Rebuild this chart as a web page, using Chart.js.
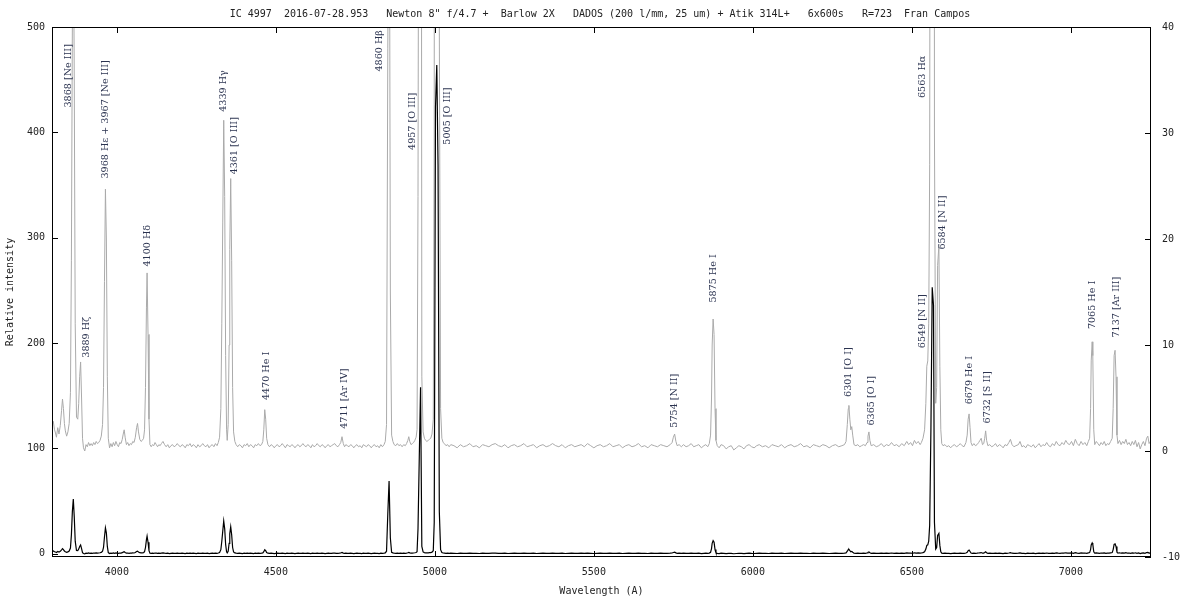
<!DOCTYPE html>
<html>
<head>
<meta charset="utf-8">
<title>IC 4997 spectrum</title>
<script src="https://cdn.jsdelivr.net/npm/chart.js@4.4.0/dist/chart.umd.min.js"></script>
<style>
  html, body { margin: 0; padding: 0; background: #fff; }
  #wrap { width: 1200px; height: 600px; }
</style>
</head>
<body>
<div id="wrap"><canvas id="spec" width="1200" height="600"></canvas></div>
<script>
// wavelength in Angstrom
const wavelength = [
  3796, 3800, 3804, 3807, 3810, 3814, 3818, 3822, 3826, 3829,
  3832, 3835, 3838, 3842, 3846, 3850, 3854, 3857, 3860, 3863,
  3866, 3869, 3873, 3877, 3880, 3883, 3886, 3889, 3892, 3895,
  3899, 3903, 3907, 3911, 3915, 3919, 3923, 3927, 3931, 3935,
  3939, 3943, 3947, 3951, 3955, 3958, 3961, 3964, 3967, 3970,
  3973, 3977, 3981, 3985, 3989, 3993, 3997, 4001, 4005, 4009,
  4013, 4017, 4020, 4023, 4026, 4030, 4034, 4038, 4042, 4046,
  4050, 4054, 4058, 4062, 4065, 4068, 4072, 4076, 4080, 4084,
  4087, 4090, 4093, 4095, 4098, 4101, 4104, 4108, 4112, 4116,
  4120, 4124, 4128, 4132, 4136, 4140, 4145, 4150, 4155, 4160,
  4165, 4170, 4175, 4180, 4185, 4190, 4195, 4200, 4205, 4210,
  4215, 4220, 4225, 4230, 4235, 4240, 4245, 4250, 4255, 4260,
  4265, 4270, 4275, 4280, 4285, 4290, 4295, 4300, 4305, 4310,
  4315, 4319, 4323, 4327, 4330, 4333, 4336, 4339, 4342, 4345,
  4347, 4350, 4353, 4355, 4358, 4361, 4364, 4367, 4371, 4375,
  4380, 4385, 4390, 4395, 4400, 4405, 4410, 4415, 4420, 4425,
  4430, 4435, 4440, 4445, 4450, 4455, 4459, 4462, 4465, 4468,
  4471, 4475, 4480, 4485, 4490, 4495, 4500, 4505, 4510, 4515,
  4520, 4525, 4530, 4535, 4540, 4545, 4550, 4555, 4560, 4565,
  4570, 4575, 4580, 4585, 4590, 4595, 4600, 4605, 4610, 4615,
  4620, 4625, 4630, 4635, 4640, 4645, 4650, 4655, 4660, 4665,
  4670, 4675, 4680, 4685, 4690, 4695, 4700, 4704, 4708, 4712,
  4716, 4720, 4725, 4730, 4735, 4740, 4745, 4750, 4755, 4760,
  4765, 4770, 4775, 4780, 4785, 4790, 4795, 4800, 4805, 4810,
  4815, 4820, 4825, 4830, 4835, 4840, 4844, 4848, 4852, 4856,
  4860, 4864, 4868, 4872, 4877, 4882, 4887, 4892, 4897, 4902,
  4907, 4911, 4915, 4918, 4921, 4925, 4929, 4933, 4937, 4941,
  4944, 4947, 4951, 4955, 4959, 4963, 4967, 4971, 4975, 4979,
  4983, 4987, 4991, 4995, 4998, 5002, 5006, 5010, 5014, 5018,
  5022, 5026, 5030, 5035, 5040, 5045, 5050, 5060, 5070, 5080,
  5090, 5100, 5110, 5120, 5130, 5140, 5150, 5160, 5170, 5180,
  5190, 5200, 5210, 5220, 5230, 5240, 5250, 5260, 5270, 5280,
  5290, 5300, 5310, 5320, 5330, 5340, 5350, 5360, 5370, 5380,
  5390, 5400, 5410, 5420, 5430, 5440, 5450, 5460, 5470, 5480,
  5490, 5500, 5510, 5520, 5530, 5540, 5550, 5560, 5570, 5580,
  5590, 5600, 5610, 5620, 5630, 5640, 5650, 5660, 5670, 5680,
  5690, 5700, 5710, 5720, 5730, 5740, 5746, 5750, 5754, 5758,
  5762, 5768, 5775, 5782, 5790, 5798, 5806, 5814, 5822, 5830,
  5838, 5846, 5852, 5858, 5863, 5867, 5870, 5872, 5875, 5878,
  5881, 5884, 5888, 5894, 5900, 5908, 5916, 5924, 5932, 5940,
  5948, 5956, 5964, 5972, 5980, 5988, 5996, 6004, 6012, 6020,
  6030, 6040, 6050, 6060, 6070, 6080, 6090, 6100, 6110, 6120,
  6130, 6140, 6150, 6160, 6170, 6180, 6190, 6200, 6210, 6220,
  6230, 6240, 6250, 6260, 6270, 6280, 6288, 6293, 6297, 6300,
  6302, 6305, 6308, 6311, 6314, 6318, 6324, 6330, 6336, 6342,
  6348, 6354, 6359, 6362, 6365, 6368, 6372, 6380, 6388, 6396,
  6404, 6412, 6420, 6428, 6436, 6444, 6452, 6460, 6468, 6476,
  6484, 6490, 6496, 6502, 6508, 6514, 6520, 6526, 6530, 6535,
  6540, 6544, 6547, 6550, 6553, 6556, 6560, 6564, 6568, 6571,
  6575, 6578, 6581, 6585, 6588, 6591, 6594, 6598, 6604, 6610,
  6616, 6622, 6628, 6634, 6640, 6646, 6652, 6658, 6664, 6670,
  6674, 6677, 6680, 6683, 6686, 6690, 6695, 6700, 6705, 6710,
  6714, 6718, 6722, 6726, 6729, 6732, 6735, 6739, 6745, 6751,
  6757, 6763, 6769, 6775, 6781, 6787, 6793, 6799, 6805, 6810,
  6815, 6821, 6827, 6835, 6840, 6846, 6852, 6858, 6864, 6870,
  6876, 6882, 6888, 6894, 6900, 6906, 6912, 6918, 6924, 6930,
  6936, 6942, 6948, 6954, 6960, 6966, 6972, 6978, 6984, 6990,
  6996, 7002, 7008, 7014, 7020, 7026, 7032, 7038, 7044, 7050,
  7055, 7059, 7062, 7064, 7067, 7069, 7072, 7075, 7080, 7085,
  7090, 7095, 7100, 7105, 7110, 7115, 7120, 7125, 7130, 7133,
  7136, 7139, 7142, 7145, 7148, 7153, 7158, 7163, 7168, 7173,
  7178, 7183, 7188, 7193, 7198, 7203, 7208, 7213, 7218, 7223,
  7228, 7233, 7238, 7242, 7246, 7250, 7252
];

// relative intensity at each wavelength (same row layout as above)
const intensity = [
  2.4, 2.8, 2.0, 1.7, 1.3, 2.2, 1.6, 2.4, 3.8, 4.9,
  4.0, 2.6, 1.9, 1.4, 1.8, 2.6, 5.5, 18, 40, 52,
  35, 12, 3.2, 3.0, 4.5, 7.0, 8.4, 5.0, 1.2, 0.3,
  0.0, 0.6, 0.4, 0.8, 0.5, 0.7, 0.5, 0.8, 0.6, 0.9,
  0.7, 0.8, 1.0, 1.4, 2.5, 6.0, 16.0, 24.7, 20.0, 7.0,
  1.2, 0.3, 0.7, 0.4, 0.8, 0.5, 0.9, 0.6, 0.4, 0.8,
  0.7, 1.1, 1.6, 2.0, 1.3, 0.6, 0.8, 0.5, 0.7, 0.6,
  0.9, 0.8, 1.3, 2.2, 2.6, 1.8, 1.1, 0.9, 1.0, 1.2,
  2.0, 6.0, 13.5, 16.8, 11.0, 3.0, 0.6, 0.4, 0.6, 0.5,
  0.8, 0.6, 0.4, 0.6, 0.5, 0.7, 0.9, 0.6, 0.4, 0.6,
  0.3, 0.5, 0.6, 0.4, 0.5, 0.7, 0.5, 0.4, 0.6, 0.5,
  0.3, 0.6, 0.5, 0.7, 0.4, 0.6, 0.5, 0.3, 0.6, 0.4,
  0.5, 0.7, 0.5, 0.4, 0.6, 0.3, 0.5, 0.6, 0.4, 0.7,
  0.5, 0.8, 1.3, 4.0, 12.0, 21.6, 31.2, 24.0, 9.0, 2.0,
  1.0, 2.5, 10.0, 19.0, 25.7, 18.0, 6.0, 1.8, 0.9, 0.6,
  0.4, 0.6, 0.5, 0.3, 0.6, 0.5, 0.7, 0.4, 0.6, 0.5,
  0.3, 0.6, 0.5, 0.7, 0.5, 0.6, 0.9, 2.0, 3.9, 3.0,
  1.2, 0.6, 0.4, 0.6, 0.5, 0.3, 0.5, 0.6, 0.4, 0.5,
  0.7, 0.5, 0.3, 0.6, 0.5, 0.4, 0.6, 0.5, 0.3, 0.5,
  0.6, 0.4, 0.5, 0.7, 0.5, 0.4, 0.6, 0.5, 0.3, 0.6,
  0.4, 0.5, 0.7, 0.5, 0.4, 0.6, 0.5, 0.3, 0.5, 0.6,
  0.4, 0.5, 0.6, 0.7, 0.5, 0.4, 0.6, 0.8, 1.35, 0.7,
  0.4, 0.6, 0.5, 0.4, 0.6, 0.5, 0.3, 0.5, 0.6, 0.4,
  0.5, 0.3, 0.6, 0.5, 0.4, 0.6, 0.5, 0.3, 0.5, 0.6,
  0.4, 0.5, 0.3, 0.6, 0.4, 0.6, 0.9, 2.5, 38, 69,
  15, 1.5, 0.9, 0.6, 0.5, 0.7, 0.5, 0.6, 0.4, 0.6,
  0.5, 0.7, 1.0, 1.35, 0.9, 0.6, 0.7, 0.8, 1.0, 1.3,
  2.0, 24, 92, 158, 7, 1.8, 1.2, 1.0, 0.9, 1.0,
  1.1, 1.2, 1.6, 3.0, 30, 424, 464, 369, 40, 4,
  1.2, 0.8, 0.7, 0.5, 0.6, 0.4, 0.6, 0.5, 0.3, 0.6,
  0.4, 0.5, 0.7, 0.4, 0.5, 0.3, 0.6, 0.5, 0.4, 0.6,
  0.7, 0.5, 0.4, 0.6, 0.3, 0.5, 0.6, 0.4, 0.5, 0.7,
  0.4, 0.5, 0.6, 0.3, 0.5, 0.6, 0.4, 0.5, 0.7, 0.5,
  0.4, 0.6, 0.3, 0.5, 0.6, 0.4, 0.5, 0.6, 0.4, 0.7,
  0.5, 0.3, 0.5, 0.6, 0.4, 0.5, 0.7, 0.4, 0.5, 0.6,
  0.3, 0.5, 0.6, 0.4, 0.5, 0.7, 0.4, 0.5, 0.3, 0.6,
  0.5, 0.4, 0.6, 0.5, 0.4, 0.6, 0.8, 1.3, 1.6, 0.9,
  0.5, 0.6, 0.4, 0.6, 0.4, 0.5, 0.7, 0.4, 0.5, 0.6,
  0.3, 0.5, 0.6, 0.4, 0.7, 1.5, 5.0, 10.0, 12.45, 11.0,
  4.0, 1.0, 0.5, 0.3, 0.6, 0.5, 0.2, 0.4, 0.5, 0.1,
  0.3, 0.5, 0.4, 0.2, 0.5, 0.6, 0.4, 0.3, 0.5, 0.6,
  0.4, 0.5, 0.3, 0.6, 0.5, 0.4, 0.6, 0.3, 0.5, 0.6,
  0.4, 0.5, 0.7, 0.4, 0.5, 0.3, 0.6, 0.5, 0.4, 0.6,
  0.5, 0.3, 0.5, 0.6, 0.4, 0.5, 0.6, 0.9, 2.5, 4.0,
  4.3, 3.0, 2.0, 2.3, 1.5, 0.6, 0.5, 0.6, 0.4, 0.5,
  0.6, 0.5, 0.8, 1.4, 1.8, 1.0, 0.5, 0.6, 0.4, 0.5,
  0.7, 0.4, 0.6, 0.5, 0.8, 0.5, 0.6, 0.4, 0.7, 0.5,
  0.9, 0.6, 0.8, 0.5, 1.0, 0.7, 0.9, 0.6, 0.8, 1.2,
  2.0, 4.5, 8.0, 8.5, 12, 27, 120, 253, 236, 30,
  4.5, 6.0, 17.5, 19.4, 8, 2.0, 0.7, 0.5, 0.6, 0.4,
  0.5, 0.3, 0.5, 0.6, 0.4, 0.5, 0.7, 0.5, 0.4, 0.8,
  1.5, 3.0, 3.5, 2.2, 0.8, 0.5, 0.7, 0.5, 0.6, 0.8,
  1.0, 1.2, 0.6, 0.7, 1.2, 1.9, 1.0, 0.5, 0.6, 0.4,
  0.5, 0.7, 0.4, 0.6, 0.5, 0.3, 0.6, 0.5, 0.8, 1.1,
  0.6, 0.4, 0.5, 0.6, 0.9, 0.4, 0.5, 0.3, 0.6, 0.5,
  0.4, 0.6, 0.3, 0.5, 0.7, 0.4, 0.6, 0.5, 0.8, 0.5,
  0.4, 0.7, 0.5, 0.9, 0.6, 0.5, 0.8, 0.6, 1.0, 0.7,
  0.6, 0.9, 0.5, 1.1, 0.7, 0.5, 0.9, 0.6, 0.8, 0.5,
  0.9, 1.2, 4.0, 8.5, 10.3, 9.0, 2.0, 0.6, 0.9, 0.7,
  0.5, 0.8, 0.6, 0.9, 0.5, 0.7, 0.6, 0.9, 1.2, 4.0,
  9.0, 9.5, 7.0, 1.5, 0.7, 1.0, 0.6, 0.9, 0.7, 1.1,
  0.6, 0.8, 0.5, 0.9, 0.6, 1.0, 0.4, 0.8, 0.2, 0.6,
  0.9, 0.5, 1.2, 1.4, 0.7, 0.9, 0.6
];

// tick values of the three axes
const xTickValues = [4000, 4500, 5000, 5500, 6000, 6500, 7000];
const yTickValues = [0, 100, 200, 300, 400, 500];
const y2TickValues = [-10, 0, 10, 20, 30, 40];

// line identifications: text, where the label sits (wavelength, level on the x10 axis)
const lineNames = [
  "3868 [Ne III]", "3889 H\u03b6", "3968 H\u03b5 + 3967 [Ne III]", "4100 H\u03b4",
  "4339 H\u03b3", "4361 [O III]", "4470 He I", "4711 [Ar IV]", "4860 H\u03b2",
  "4957 [O III]", "5005 [O III]", "5754 [N II]", "5875 He I", "6301 [O I]",
  "6365 [O I]", "6549 [N II]", "6563 H\u03b1", "6584 [N II]", "6679 He I",
  "6732 [S II]", "7065 He I", "7137 [Ar III]"
];
const labelWavelength = [
  3849, 3906, 3965, 4097, 4336, 4371, 4472, 4717, 4827, 4931, 5041,
  5755, 5877, 6302, 6374, 6535, 6535, 6597, 6682, 6739, 7069, 7145
];
const labelLevel = [
  32.4, 8.8, 25.7, 17.4, 32.0, 26.1, 4.8, 2.1, 35.8, 28.4, 28.9,
  2.2, 14.0, 5.1, 2.4, 9.7, 33.3, 19.0, 4.4, 2.6, 11.5, 10.7
];

const titleText = 'IC 4997  2016-07-28.953   Newton 8" f/4.7 +  Barlow 2X   DADOS (200 l/mm, 25 um) + Atik 314L+   6x600s   R=723  Fran Campos';

const MONO = "'DejaVu Sans Mono', 'Liberation Mono', monospace";
const TXT = '#222';

Chart.defaults.font.family = MONO;
Chart.defaults.font.size = 10;
Chart.defaults.color = TXT;

const points = wavelength.map((w, i) => ({ x: w, y: intensity[i] }));
const asTicks = vals => vals.map(v => ({ value: v }));

// gnuplot style frame with inward tics
const frameTics = {
    id: 'frameTics',
    afterDraw(chart) {
        const { ctx, chartArea: a, scales } = chart;
        ctx.save();
        ctx.strokeStyle = '#000';
        ctx.lineWidth = 1;
        ctx.strokeRect(a.left + 0.5, a.top + 0.5, a.right - a.left - 1, a.bottom - a.top - 1);
        ctx.beginPath();
        scales.x.ticks.forEach(t => {
            const px = Math.round(scales.x.getPixelForValue(t.value)) + 0.5;
            ctx.moveTo(px, a.bottom); ctx.lineTo(px, a.bottom - 6);
            ctx.moveTo(px, a.top); ctx.lineTo(px, a.top + 6);
        });
        scales.y.ticks.forEach(t => {
            const py = Math.round(scales.y.getPixelForValue(t.value)) + 0.5;
            ctx.moveTo(a.left, py); ctx.lineTo(a.left + 6, py);
        });
        scales.y2.ticks.forEach(t => {
            const py = Math.round(scales.y2.getPixelForValue(t.value)) + 0.5;
            ctx.moveTo(a.right, py); ctx.lineTo(a.right - 6, py);
        });
        ctx.stroke();
        ctx.restore();
    }
};

// vertical line labels
const lineIds = {
    id: 'lineIds',
    afterDatasetsDraw(chart) {
        const { ctx, scales } = chart;
        ctx.save();
        ctx.font = "9.6px 'DejaVu Serif', 'Liberation Serif', serif";
        ctx.fillStyle = '#2b3350';
        ctx.textAlign = 'left';
        ctx.textBaseline = 'middle';
        lineNames.forEach((name, i) => {
            const px = scales.x.getPixelForValue(labelWavelength[i]);
            const py = scales.y2.getPixelForValue(labelLevel[i]);
            ctx.save();
            ctx.translate(px, py);
            ctx.rotate(-Math.PI / 2);
            ctx.fillText(name, 0, 0);
            ctx.restore();
        });
        ctx.restore();
    }
};

new Chart(document.getElementById('spec'), {
    type: 'line',
    data: {
        datasets: [
            { label: 'spectrum', data: points, yAxisID: 'y', borderColor: '#000', borderWidth: 1.2, pointRadius: 0, tension: 0 },
            { label: 'spectrum x10', data: points, yAxisID: 'y2', borderColor: '#aaaaaa', borderWidth: 1, pointRadius: 0, tension: 0 }
        ]
    },
    options: {
        responsive: false,
        animation: false,
        devicePixelRatio: 1,
        layout: { padding: 0 },
        plugins: {
            legend: { display: false },
            tooltip: { enabled: false },
            title: { display: true, text: titleText, color: TXT, font: { family: MONO, size: 10, weight: 'normal' }, padding: { top: 8, bottom: 7 } }
        },
        scales: {
            x: {
                type: 'linear', min: 3796, max: 7252,
                grid: { display: false, drawTicks: false }, border: { display: false },
                ticks: { autoSkip: false, maxRotation: 0, padding: 9, callback: v => String(v) },
                afterBuildTicks: s => { s.ticks = asTicks(xTickValues); },
                title: { display: true, text: 'Wavelength (A)', color: TXT, padding: { top: 0, bottom: 3 } },
                afterFit: s => { s.height = 43; }
            },
            y: {
                position: 'left', min: -3, max: 500,
                grid: { display: false, drawTicks: false }, border: { display: false },
                ticks: { padding: 7, callback: v => String(v) },
                afterBuildTicks: s => { s.ticks = asTicks(yTickValues); },
                title: { display: true, text: 'Relative intensity', color: TXT, padding: { top: 4, bottom: 0 } },
                afterFit: s => { s.width = 52; }
            },
            y2: {
                position: 'right', min: -10, max: 40,
                grid: { display: false, drawTicks: false }, border: { display: false },
                ticks: { padding: 11, callback: v => String(v) },
                afterBuildTicks: s => { s.ticks = asTicks(y2TickValues); },
                afterFit: s => { s.width = 49; }
            }
        }
    },
    plugins: [frameTics, lineIds]
});
</script>
</body>
</html>
